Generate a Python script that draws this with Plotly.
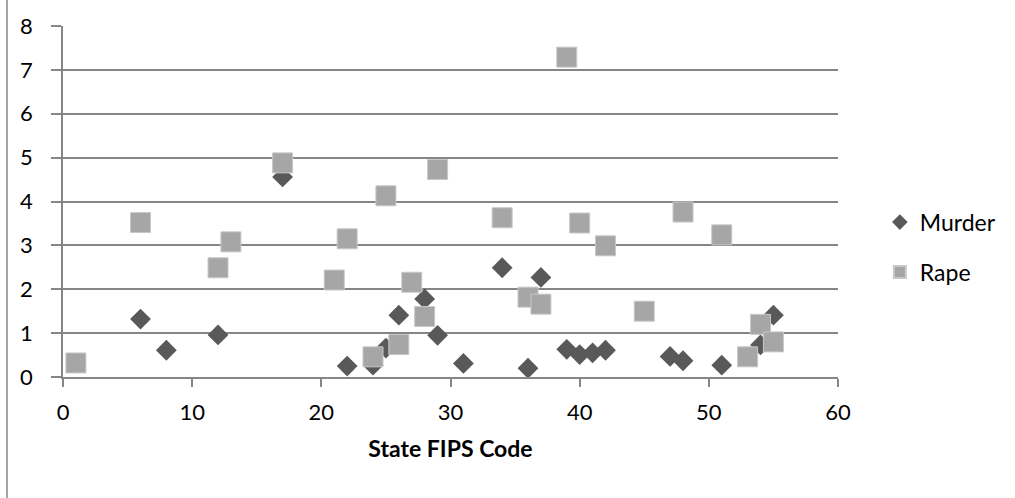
import plotly.graph_objects as go

# State FIPS codes and rates
murder_x = [6, 8, 12, 17, 22, 24, 25, 26, 28, 29, 31, 34, 36, 37, 39, 40, 41, 42, 47, 48, 51, 54, 55]
murder_y = [1.32, 0.61, 0.96, 4.56, 0.25, 0.27, 0.66, 1.41, 1.78, 0.95, 0.31, 2.49, 0.2, 2.27, 0.63, 0.51, 0.55, 0.61, 0.47, 0.37, 0.27, 0.73, 1.41]

rape_x = [1, 6, 12, 13, 17, 21, 22, 24, 25, 26, 27, 28, 29, 34, 36, 37, 39, 40, 42, 45, 48, 51, 53, 54, 55]
rape_y = [0.32, 3.52, 2.49, 3.08, 4.88, 2.21, 3.15, 0.46, 4.13, 0.74, 2.16, 1.38, 4.73, 3.63, 1.82, 1.66, 7.29, 3.51, 2.99, 1.5, 3.76, 3.24, 0.46, 1.2, 0.8]

x_ticks = [0, 10, 20, 30, 40, 50, 60]
y_ticks = [0, 1, 2, 3, 4, 5, 6, 7, 8]

FONT = "Lato, Carlito, Calibri, sans-serif"
GRID = "#868686"

fig = go.Figure()
fig.add_trace(go.Scatter(
    x=murder_x, y=murder_y, mode="markers", name="Murder", legendgroup="m",
    marker=dict(symbol="diamond", size=16, color="#595959", line=dict(width=0)),
))
fig.add_trace(go.Scatter(
    x=rape_x, y=rape_y, mode="markers", name="Rape", legendgroup="r",
    marker=dict(symbol="square", size=20, color="#A6A6A6", line=dict(width=1, color="#C8C8C8")),
))

fig.update_layout(
    width=1015, height=498,
    margin=dict(l=63, r=177, t=24, b=121),
    paper_bgcolor="white", plot_bgcolor="white",
    font=dict(family=FONT, size=22, color="#000000"),
    showlegend=True,
    legend=dict(x=1.054, y=0.37, xanchor="left", yanchor="middle",
                font=dict(family=FONT, size=23, color="#000000"),
                tracegroupgap=17, itemsizing="constant"),
    xaxis=dict(range=[0, 60], tickvals=x_ticks, showgrid=False, zeroline=False,
               showline=True, linecolor=GRID, linewidth=1.5,
               ticks="outside", ticklen=8, tickcolor=GRID, tickwidth=1.5,
               tickfont=dict(family=FONT, size=22, color="#000000"), ticklabelstandoff=7,
               title=dict(text="<b>State FIPS Code</b>", font=dict(family=FONT, size=23, color="#000000"), standoff=17)),
    yaxis=dict(range=[0, 8], tickvals=y_ticks, showgrid=True, gridcolor=GRID, gridwidth=1.5,
               zeroline=False, showline=True, linecolor=GRID, linewidth=1.5,
               ticks="outside", ticklen=10, tickcolor=GRID, tickwidth=1.5,
               tickfont=dict(family=FONT, size=22, color="#000000"), ticklabelstandoff=14),
    shapes=[dict(type="line", xref="paper", yref="paper", x0=-0.0723, x1=-0.0723, y0=-0.5, y1=1.2,
                 line=dict(color=GRID, width=1.5))],
)

fig.write_html("out.html", config={"displayModeBar": False},
               post_script="document.body.style.margin='0';")
